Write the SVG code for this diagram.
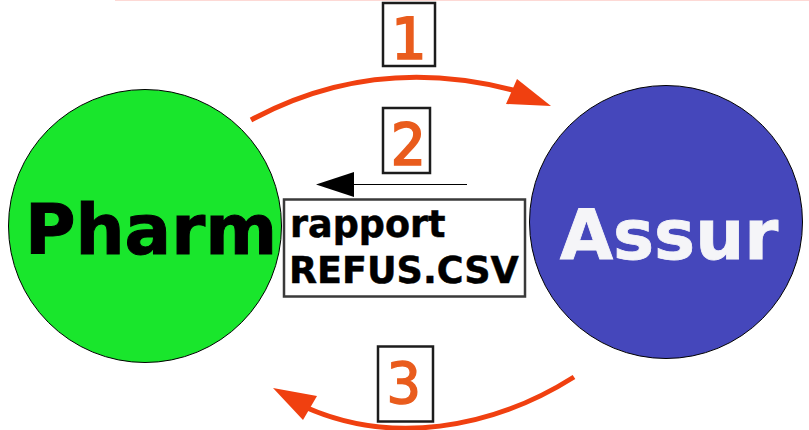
<svg xmlns="http://www.w3.org/2000/svg" width="809" height="430" viewBox="0 0 809 430">
<style>
.node{stroke:#000;stroke-width:1}
.big{font-family:"DejaVu Sans",sans-serif;font-weight:bold;text-anchor:middle}
.box{fill:#fff;stroke:#1c1c1c;stroke-width:2.500}
.num{font-family:"DejaVu Sans Mono",monospace;fill:#e95c1d;stroke:#e95c1d;stroke-width:2.200;font-size:57px;text-anchor:middle}
.rep{font-family:"DejaVu Sans",sans-serif;font-weight:bold;font-size:36.500px;fill:#000;stroke:#000;stroke-width:.5}
.arc{fill:none;stroke:#f04010;stroke-width:5}
</style>
<rect width="809" height="430" fill="#fff"/>
<rect x="115" y="0" width="694" height="1" fill="#fdd9d5"/>
<g id="pharm"><circle class="node" cx="145" cy="226" r="136.500" fill="#19e62c"/><text class="big" x="151" y="254" style="font-size:69px;stroke:#000;stroke-width:1">Pharm</text></g>
<g id="assur"><circle class="node" cx="666" cy="222" r="136.500" fill="#4547bb"/><text class="big" x="669" y="259" style="fill:#f5f5f8;font-size:69px;stroke:#f5f5f8;stroke-width:.8">Assur</text></g>
<g id="rapport"><rect x="284" y="199.500" width="241" height="97" fill="#fff" stroke="#3a3a3a" stroke-width="2.500"/><text class="rep" x="290" y="237">rapport</text><text class="rep" x="289" y="283">REFUS.CSV</text></g>
<g id="n1"><rect class="box" x="383" y="3" width="52" height="63"/><text class="num" x="408" y="59">1</text></g>
<g id="n2"><rect class="box" x="383" y="108" width="47" height="65"/><text class="num" x="408" y="165">2</text></g>
<g id="n3"><rect class="box" x="378" y="346.500" width="55" height="75"/><text class="num" x="404" y="404" style="stroke-width:1.400">3</text></g>
<g id="connectors">
<path class="arc" d="M251 120C340 72 430 67 520 92"/>
<polygon points="551,106 506,104 517,79" fill="#f04010"/>
<path d="M467 184.500H350" fill="none" stroke="#000" stroke-width="1"/>
<polygon points="316,184.500 354,172 354,197" fill="#000"/>
<path class="arc" d="M574 377C490 430 390 445 305 407"/>
<polygon points="273,388 317,396 303,420" fill="#f04010"/>
</g>
</svg>
